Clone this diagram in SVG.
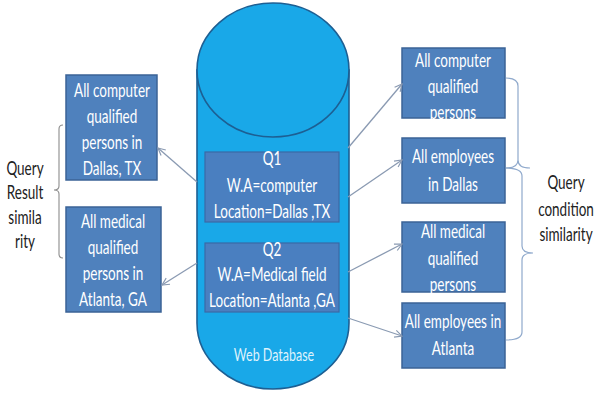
<svg xmlns="http://www.w3.org/2000/svg" width="596" height="396" viewBox="0 0 596 396">
  <defs>
    <marker id="arr" viewBox="0 0 10 10" refX="9" refY="5" markerWidth="9" markerHeight="9" markerUnits="userSpaceOnUse" orient="auto">
      <path d="M1,1 L9,5 L1,9" fill="none" stroke="#8a9ab2" stroke-width="1.3"/>
    </marker>
    <style>
      .box { fill: #4f81bd; stroke: #3b6396; stroke-width: 1.5; }
      .qbox { fill: #4a7fc0; stroke: #3b69a6; stroke-width: 1.2; }
      .t { font-family: Lato, "Liberation Sans", sans-serif; font-size: 13.5px; fill: #ffffff; text-anchor: middle; }
      .d { font-family: Lato, "Liberation Sans", sans-serif; font-size: 13.5px; fill: #222222; text-anchor: middle; }
      .w { font-family: Lato, "Liberation Sans", sans-serif; font-size: 12.5px; fill: #dff3fc; text-anchor: middle; }
      .link { fill: none; stroke: #8a9ab2; stroke-width: 1.3; marker-end: url(#arr); }
      .brace { fill: none; stroke: #8fa9cc; stroke-width: 1.2; }
      .lbrace { fill: none; stroke: #8c8c8c; stroke-width: 1.1; }
    </style>
  </defs>
  <rect width="596" height="396" fill="#ffffff"/>

  <!-- web database cylinder -->
  <g id="web-database">
    <path d="M197,70 L197,323 A76,66 0 0 0 349,323 L349,70 Z" fill="#19a8e8" stroke="#1d5f93" stroke-width="1.6"/>
    <ellipse cx="273" cy="70" rx="76" ry="67" fill="#19a8e8" stroke="#1d5f93" stroke-width="1.6"/>
    <text class="w" transform="matrix(1 0 0 1.35 274 361)">Web Database</text>
  </g>

  <g id="q1">
    <rect class="qbox" x="205" y="152" width="134" height="70"/>
    <text class="t" transform="matrix(1 0 0 1.35 272 165)">Q1</text>
    <text class="t" transform="matrix(1 0 0 1.35 272 192)">W.A=computer</text>
    <text class="t" transform="matrix(1 0 0 1.35 272 218)">Location=Dallas ,TX</text>
  </g>

  <g id="q2">
    <rect class="qbox" x="205" y="243" width="134" height="69"/>
    <text class="t" transform="matrix(1 0 0 1.35 272 256)">Q2</text>
    <text class="t" transform="matrix(1 0 0 1.35 272 281)">W.A=Medical field</text>
    <text class="t" transform="matrix(1 0 0 1.35 272 307)">Location=Atlanta ,GA</text>
  </g>

  <!-- query results -->
  <g id="result-dallas">
    <rect class="box" x="66" y="75" width="91" height="105"/>
    <text class="t" transform="matrix(1 0 0 1.35 112 97)">All computer</text>
    <text class="t" transform="matrix(1 0 0 1.35 112 123)">qualified</text>
    <text class="t" transform="matrix(1 0 0 1.35 112 149)">persons in</text>
    <text class="t" transform="matrix(1 0 0 1.35 112 175)">Dallas, TX</text>
  </g>

  <g id="result-atlanta">
    <rect class="box" x="66" y="207" width="95" height="105"/>
    <text class="t" transform="matrix(1 0 0 1.35 113 228)">All medical</text>
    <text class="t" transform="matrix(1 0 0 1.35 113 254)">qualified</text>
    <text class="t" transform="matrix(1 0 0 1.35 113 280)">persons in</text>
    <text class="t" transform="matrix(1 0 0 1.35 113 306)">Atlanta, GA</text>
  </g>

  <!-- query conditions -->
  <g id="cond-computer">
    <rect class="box" x="402" y="48" width="103" height="70"/>
    <text class="t" transform="matrix(1 0 0 1.35 453 67)">All computer</text>
    <text class="t" transform="matrix(1 0 0 1.35 453 93)">qualified</text>
    <text class="t" transform="matrix(1 0 0 1.35 453 119)">persons</text>
  </g>

  <g id="cond-dallas">
    <rect class="box" x="402" y="138" width="103" height="65"/>
    <text class="t" transform="matrix(1 0 0 1.35 453 163)">All employees</text>
    <text class="t" transform="matrix(1 0 0 1.35 453 191)">in Dallas</text>
  </g>

  <g id="cond-medical">
    <rect class="box" x="402" y="222" width="103" height="70"/>
    <text class="t" transform="matrix(1 0 0 1.35 453 238)">All medical</text>
    <text class="t" transform="matrix(1 0 0 1.35 453 265)">qualified</text>
    <text class="t" transform="matrix(1 0 0 1.35 453 291)">persons</text>
  </g>

  <g id="cond-atlanta">
    <rect class="box" x="402" y="303" width="103" height="65"/>
    <text class="t" transform="matrix(1 0 0 1.35 453 328)">All employees in</text>
    <text class="t" transform="matrix(1 0 0 1.35 453 355)">Atlanta</text>
  </g>

  <!-- group labels -->
  <g id="label-result">
    <text class="d" transform="matrix(1 0 0 1.35 25 175)">Query</text>
    <text class="d" transform="matrix(1 0 0 1.35 25 199)">Result</text>
    <text class="d" transform="matrix(1 0 0 1.35 25 224)">simila</text>
    <text class="d" transform="matrix(1 0 0 1.35 25 248)">rity</text>
  </g>

  <g id="label-condition">
    <text class="d" transform="matrix(1 0 0 1.35 566 189)">Query</text>
    <text class="d" transform="matrix(1 0 0 1.35 566 216)">condition</text>
    <text class="d" transform="matrix(1 0 0 1.35 566 241)">similarity</text>
  </g>

  <!-- connectors and braces -->
  <g id="connectors">
    <path class="link" d="M197,182 L158,148"/>
    <path class="link" d="M197,263 L162,285"/>
    <path class="link" d="M348,148 L402,84"/>
    <path class="link" d="M348,197 L402,160"/>
    <path class="link" d="M348,272 L402,244"/>
    <path class="link" d="M348,318 L402,336"/>

    <path class="lbrace" d="M63,125 Q59,125 59,129 L59,186 Q59,190 54,190 Q59,190 59,194 L59,254 Q59,258 63,258"/>
    <path class="brace" d="M506,78 Q518,78 518,86 L518,160 Q518,168 530,168 M518,160 Q518,168 506,168"/>
    <path class="brace" d="M506,168 Q522,168 522,176 L522,246 Q522,253 533,253 Q522,253 522,260 L522,332 Q522,340 506,340"/>
  </g>
</svg>
